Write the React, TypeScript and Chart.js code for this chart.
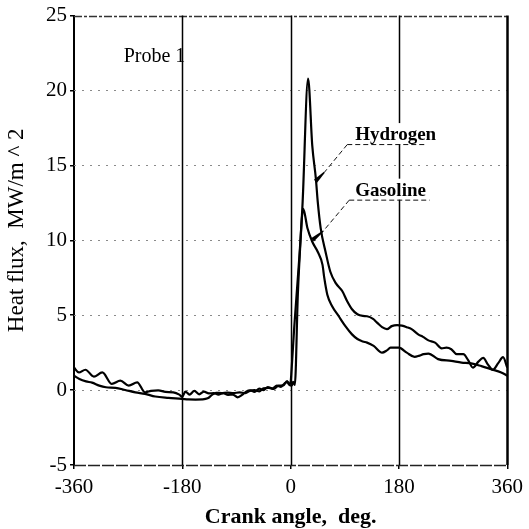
import React, { useEffect, useRef } from "react";
import { Chart, registerables } from "chart.js";
Chart.register(...registerables);

// ---- data ----
const hydrogenAngle = [
  -360, -352, -341, -327, -313, -297, -283, -269, -255, -242, -232, -220, -208, -195, -185, -180,
  -175, -168, -160, -152, -144, -136, -128, -120, -112, -104, -96, -88, -80, -74, -67, -60, -52,
  -45, -38, -30, -23, -16, -10, -5, -2, 2, 4, 7, 12, 20, 29, 36, 42, 45, 50, 58, 66, 75, 86, 94,
  102, 111, 120, 127, 137, 144, 152, 160, 168, 177, 185, 193, 201, 212, 220, 229, 240, 251, 259,
  267, 276, 287, 295, 303, 312, 320, 328, 336, 345, 353, 360,
];
const hydrogenFlux = [
  1.5, 1.18, 1.36, 0.9, 1.18, 0.41, 0.63, 0.3, 0.52, -0.15, -0.05, -0.02, -0.12, -0.15, -0.3, -0.45,
  -0.1, -0.3, -0.05, -0.28, -0.1, -0.22, -0.2, -0.3, -0.2, -0.32, -0.3, -0.48, -0.3, -0.1, -0.02,
  -0.12, 0.1, 0.0, 0.2, 0.1, 0.3, 0.22, 0.45, 0.55, 0.35, 0.3, 0.55, 0.35, 6.4, 12.6, 20.8, 16.3,
  14.1, 12.6, 10.8, 9.24, 7.9, 7.14, 6.6, 5.93, 5.4, 5.06, 4.95, 4.93, 4.75, 4.49, 4.2, 4.07, 4.27,
  4.34, 4.3, 4.2, 4.07, 3.72, 3.55, 3.32, 3.17, 2.79, 2.83, 2.73, 2.4, 2.4, 2.0, 1.5, 1.9, 2.15,
  1.7, 1.35, 1.8, 2.2, 1.5,
];
const gasolineAngle = [
  -360, -351, -340, -330, -318, -307, -291, -275, -258, -242, -225, -203, -181, -170, -158, -146,
  -138, -130, -124, -115, -105, -95, -85, -75, -68, -60, -52, -45, -36, -28, -20, -12, -6, -3, 0,
  1.5, 6, 14, 21, 28, 36, 45, 53, 56, 61, 69, 80, 91, 102, 111, 120, 127, 138, 152, 160, 166, 180,
  193, 206, 214, 221, 229, 245, 267, 284, 300, 317, 333, 350, 360,
];
const gasolineFlux = [
  0.96, 0.74, 0.58, 0.5, 0.3, 0.19, 0.15, 0.01, -0.15, -0.25, -0.43, -0.52, -0.58, -0.62, -0.63,
  -0.62, -0.55, -0.3, -0.18, -0.2, -0.17, -0.2, -0.15, -0.2, -0.05, 0.0, -0.08, 0.12, 0.15, 0.08,
  0.3, 0.32, 0.6, 0.4, 0.55, 1.3, 4.2, 8.6, 12.1, 10.8, 9.9, 9.24, 8.36, 7.47, 6.37, 5.6, 4.93,
  4.27, 3.72, 3.41, 3.25, 3.17, 2.95, 2.5, 2.65, 2.83, 2.83, 2.5, 2.22, 2.3, 2.4, 2.44, 2.07, 1.95,
  1.84, 1.78, 1.6, 1.4, 1.18, 0.96,
];
const xTicks = [-360, -180, 0, 180, 360];
const yTicks = [-5, 0, 5, 10, 15, 20, 25];
const xTitle = "Crank angle,  deg.";
const yTitle = "Heat flux,  MW/m ^ 2";
const probeLabel = "Probe 1";
const seriesNames = ["Hydrogen", "Gasoline"];

const SERIF = "'Liberation Serif', 'Times New Roman', serif";

function seg(ctx: CanvasRenderingContext2D, x1: number, y1: number, x2: number, y2: number) {
  ctx.beginPath();
  ctx.moveTo(x1, y1);
  ctx.lineTo(x2, y2);
  ctx.stroke();
}

// label anchors in data units: [text-left angle, baseline value, underline value, underline start angle,
// underline end angle, thick start angle, thick start value, tip angle, tip value]
const labelAnchors = [
  [107.3, 16.69, 16.39, 94.1, 226.2, 56.1, 14.54, 41.3, 13.94],
  [107.3, 12.98, 12.68, 97.4, 231.2, 54.5, 10.63, 36.3, 10.03],
];

const decor = {
  id: "decor",
  beforeDatasetsDraw(chart: any) {
    const { ctx, chartArea: a, scales } = chart;
    const x = scales.x, y = scales.y;
    ctx.save();
    for (const v of yTicks) {
      const py = Math.round(y.getPixelForValue(v)) + 0.5;
      ctx.setLineDash([]);
      if (v === 25) {
        ctx.strokeStyle = "#333"; ctx.lineWidth = 1.5; ctx.setLineDash([8, 2, 3, 2]);
      } else if (v === -5) {
        ctx.strokeStyle = "#222"; ctx.lineWidth = 1.5; ctx.setLineDash([12, 2]);
      } else {
        ctx.strokeStyle = "#8a8a8a"; ctx.lineWidth = 1; ctx.setLineDash([2, 6]);
      }
      seg(ctx, a.left, py, a.right, py);
    }
    ctx.setLineDash([]);
    ctx.strokeStyle = "#000";
    for (const v of xTicks) {
      if (v === -360) continue;
      const px = Math.round(x.getPixelForValue(v)) + 0.5;
      ctx.lineWidth = v === 360 ? 2.5 : 1.5;
      seg(ctx, px, a.top, px, a.bottom);
    }
    // white backgrounds behind series labels
    ctx.font = `bold 19px ${SERIF}`;
    labelAnchors.forEach((an, i) => {
      const lx = x.getPixelForValue(an[0]);
      const by = y.getPixelForValue(an[1]);
      const w = ctx.measureText(seriesNames[i]).width;
      ctx.fillStyle = "#fff";
      ctx.fillRect(lx - 3, by - 17, w + 6, 21);
    });
    ctx.restore();
  },
  afterDatasetsDraw(chart: any) {
    const { ctx, chartArea: a, scales } = chart;
    const x = scales.x, y = scales.y;
    ctx.save();
    ctx.fillStyle = "#000";
    ctx.strokeStyle = "#111";
    // probe label
    ctx.font = `20px ${SERIF}`;
    ctx.textAlign = "left";
    ctx.textBaseline = "alphabetic";
    ctx.fillText(probeLabel, x.getPixelForValue(-277.4), y.getPixelForValue(21.93));
    // series labels with leaders
    labelAnchors.forEach((an, i) => {
      const lx = x.getPixelForValue(an[0]);
      const by = y.getPixelForValue(an[1]);
      ctx.font = `bold 19px ${SERIF}`;
      ctx.fillStyle = "#000";
      ctx.fillText(seriesNames[i], lx, by);
      const uy = y.getPixelForValue(an[2]);
      const ux1 = x.getPixelForValue(an[3]);
      const ux2 = x.getPixelForValue(an[4]);
      ctx.lineWidth = 1;
      ctx.setLineDash([5, 3]);
      seg(ctx, ux1, uy, ux2, uy);
      const tx = x.getPixelForValue(an[5]);
      const ty = y.getPixelForValue(an[6]);
      seg(ctx, ux1, uy, tx, ty);
      ctx.setLineDash([]);
      const px = x.getPixelForValue(an[7]);
      const py = y.getPixelForValue(an[8]);
      // wedge arrowhead
      const dx = px - tx, dy = py - ty;
      const len = Math.hypot(dx, dy);
      const nx = -dy / len, ny = dx / len;
      ctx.beginPath();
      ctx.moveTo(tx + nx * 0.6, ty + ny * 0.6);
      ctx.lineTo(px + nx * 2.2, py + ny * 2.2);
      ctx.lineTo(px - nx * 2.2, py - ny * 2.2);
      ctx.lineTo(tx - nx * 0.6, ty - ny * 0.6);
      ctx.closePath();
      ctx.fill();
    });
    // axis titles
    ctx.font = `bold 22px ${SERIF}`;
    ctx.textAlign = "center";
    ctx.textBaseline = "alphabetic";
    ctx.fillText(xTitle, (a.left + a.right) / 2, a.bottom + 58);
    ctx.save();
    ctx.translate(23, (a.top + a.bottom) / 2 - 10);
    ctx.rotate(-Math.PI / 2);
    ctx.font = `normal 400 23px ${SERIF}`;
    ctx.fillText(yTitle, 0, 0);
    ctx.restore();
    ctx.restore();
  },
};

export default function App() {
  const ref = useRef<HTMLCanvasElement>(null);
  useEffect(() => {
    const canvas = ref.current;
    if (!canvas) return;
    const chart = new Chart(canvas, {
      type: "line",
      data: {
        datasets: [
          {
            label: seriesNames[0],
            data: hydrogenAngle.map((a, i) => ({ x: a, y: hydrogenFlux[i] })),
            borderColor: "#000",
            borderWidth: 2.2,
            pointRadius: 0,
            cubicInterpolationMode: "monotone",
          },
          {
            label: seriesNames[1],
            data: gasolineAngle.map((a, i) => ({ x: a, y: gasolineFlux[i] })),
            borderColor: "#000",
            borderWidth: 2.2,
            pointRadius: 0,
            cubicInterpolationMode: "monotone",
          },
        ],
      },
      options: {
        responsive: false,
        animation: false,
        devicePixelRatio: 1,
        layout: { padding: { top: 12, right: 18, left: 0, bottom: 0 } },
        plugins: { legend: { display: false }, tooltip: { enabled: false } },
        scales: {
          x: {
            type: "linear",
            min: -360,
            max: 360,
            afterFit: (s: any) => { s.height = 64; },
            afterBuildTicks: (s: any) => { s.ticks = xTicks.map((v) => ({ value: v })); },
            ticks: { font: { family: SERIF, size: 21 }, color: "#000", padding: 6, maxRotation: 0 },
            grid: { drawOnChartArea: false, tickLength: 4, color: "#000", lineWidth: 1.5 },
            border: { display: false },
          },
          y: {
            type: "linear",
            min: -5,
            max: 25,
            afterFit: (s: any) => { s.width = 74; },
            afterBuildTicks: (s: any) => { s.ticks = yTicks.map((v) => ({ value: v })); },
            ticks: { font: { family: SERIF, size: 21 }, color: "#000", padding: 3 },
            grid: { drawOnChartArea: false, tickLength: 4, color: "#000", lineWidth: 1.5 },
            border: { display: true, color: "#000", width: 2 },
          },
        },
      },
      plugins: [decor],
    } as any);
    return () => chart.destroy();
  }, []);
  return (
    <div style={{ position: "fixed", left: 0, top: 0, width: 529, height: 529, background: "#fff" }}>
      <canvas ref={ref} width={529} height={529} style={{ display: "block" }} />
    </div>
  );
}
